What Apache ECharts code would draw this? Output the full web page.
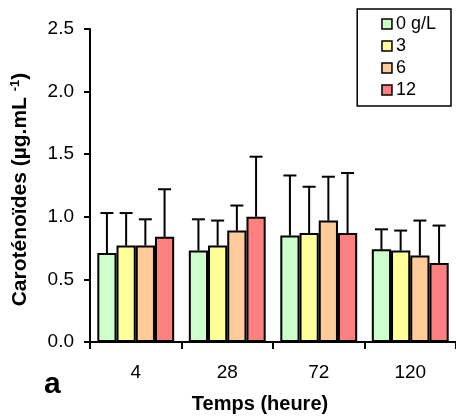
<!DOCTYPE html>
<html>
<head>
<meta charset="utf-8">
<script src="https://cdn.jsdelivr.net/npm/echarts@6/dist/echarts.min.js"></script>
<style>
  html, body { margin: 0; padding: 0; background: #fff; }
  #chart { width: 456px; height: 418px; }
</style>
</head>
<body>
<div id="chart"></div>
<script>
var categories = ['4', '28', '72', '120'];
var seriesNames = ['0 g/L', '3', '6', '12'];
var colors = ['#ccffcc', '#ffff99', '#ffcc99', '#ff8080'];
// mean values per concentration (one entry per time)
var means = [
  [0.71, 0.73, 0.85, 0.74],
  [0.77, 0.77, 0.87, 0.73],
  [0.77, 0.89, 0.97, 0.69],
  [0.84, 1.00, 0.87, 0.63]
];
// top of error bar (mean + sd)
var errTops = [
  [1.03, 0.98, 1.33, 0.90],
  [1.03, 0.97, 1.24, 0.89],
  [0.98, 1.09, 1.32, 0.97],
  [1.22, 1.48, 1.35, 0.93]
];

var font = 'Arial, "Liberation Sans", sans-serif';
var catGap = 0.16;

var chart = echarts.init(document.getElementById('chart'));

var series = [];
seriesNames.forEach(function (name, i) {
  series.push({
    name: name,
    type: 'bar',
    data: means[i],
    barGap: '0%',
    barCategoryGap: (catGap * 100) + '%',
    itemStyle: { color: colors[i], borderColor: '#000', borderWidth: 2 },
    emphasis: { disabled: true }
  });
});

// error bars drawn above the bars
series.push({
  type: 'custom',
  name: 'err',
  z: 10,
  data: (function () {
    var d = [];
    for (var s = 0; s < seriesNames.length; s++) {
      for (var c = 0; c < categories.length; c++) {
        d.push([c, means[s][c], errTops[s][c], s]);
      }
    }
    return d;
  })(),
  renderItem: function (params, api) {
    var c = api.value(0);
    var s = api.value(3);
    var band = api.size([1, 0])[0];
    var bw = band * (1 - catGap) / seriesNames.length;
    var base = api.coord([c, api.value(1)]);
    var top = api.coord([c, api.value(2)]);
    var x = base[0] + (s - 1.5) * bw;
    var half = 6.5;
    var st = { stroke: '#000', lineWidth: 2 };
    return {
      type: 'group',
      children: [
        { type: 'line', shape: { x1: x, y1: base[1], x2: x, y2: top[1] }, style: st },
        { type: 'line', shape: { x1: x - half, y1: top[1], x2: x + half, y2: top[1] }, style: st }
      ]
    };
  },
  silent: true
});

var option = {
  animation: false,
  textStyle: { fontFamily: font },
  grid: { left: 90, right: 0, top: 29, bottom: 76, containLabel: false, outerBoundsMode: 'none' },
  legend: {
    data: seriesNames,
    orient: 'vertical',
    right: 5,
    top: 9,
    icon: 'rect',
    itemWidth: 10,
    itemHeight: 10,
    itemGap: 4,
    padding: [6, 15, 7, 24],
    borderColor: '#000',
    borderWidth: 1.5,
    itemStyle: { borderColor: '#000', borderWidth: 1.5 },
    textStyle: { fontFamily: font, fontSize: 18, color: '#000', padding: [0, 0, 0, -1] }
  },
  xAxis: {
    type: 'category',
    data: categories,
    name: 'Temps (heure)',
    nameLocation: 'middle',
    nameGap: 52,
    nameTextStyle: { fontFamily: font, fontSize: 20, fontWeight: 'bold', color: '#000', padding: [0, 26, 0, 0] },
    axisLine: { lineStyle: { color: '#000', width: 2 } },
    axisTick: { show: true, length: 7, lineStyle: { color: '#000', width: 2 } },
    axisLabel: { fontFamily: font, fontSize: 19, color: '#000', margin: 21 }
  },
  yAxis: {
    type: 'value',
    min: 0,
    max: 2.5,
    interval: 0.5,
    name: 'Caroténoïdes (µg.mL {sup|-1})',
    nameLocation: 'middle',
    nameGap: 58,
    nameTextStyle: {
      fontFamily: font, fontSize: 21, fontWeight: 'bold', color: '#000', padding: [0, 8, 0, 0],
      rich: { sup: { fontFamily: font, fontSize: 13, fontWeight: 'bold', color: '#000', verticalAlign: 'top', padding: [0, 0, 10, 0] } }
    },
    splitLine: { show: false },
    axisLine: { show: true, lineStyle: { color: '#000', width: 2 } },
    axisTick: { show: true, length: 6, lineStyle: { color: '#000', width: 2 } },
    axisLabel: {
      fontFamily: font, fontSize: 19, color: '#000', margin: 16,
      formatter: function (v) { return v.toFixed(1); }
    }
  },
  graphic: [{
    type: 'text',
    left: 44,
    top: 370,
    style: { text: 'a', font: 'bold 30px ' + font, fill: '#000' }
  }],
  series: series
};

chart.setOption(option);
</script>
</body>
</html>
